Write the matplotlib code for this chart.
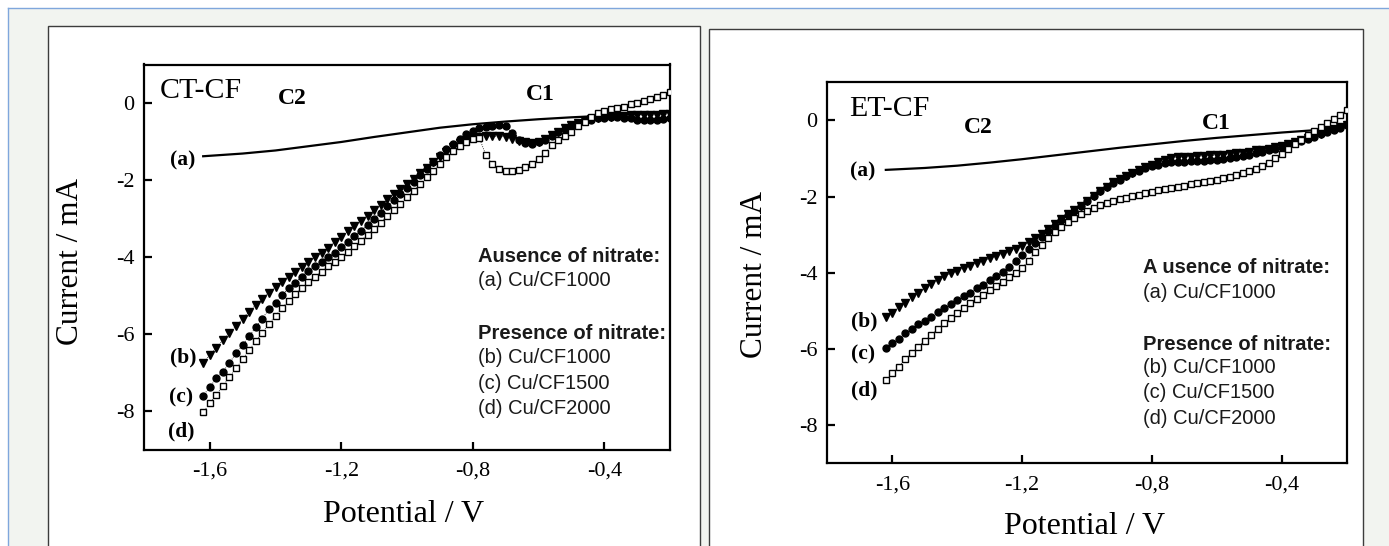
import matplotlib
matplotlib.use("Agg")
import matplotlib.pyplot as plt
from matplotlib.patches import Rectangle
from matplotlib.lines import Line2D

# ---------------- data ----------------
potential = [-1.62, -1.60, -1.58, -1.56, -1.54, -1.52, -1.50, -1.48, -1.46, -1.44,
             -1.42, -1.40, -1.38, -1.36, -1.34, -1.32, -1.30, -1.28, -1.26, -1.24,
             -1.22, -1.20, -1.18, -1.16, -1.14, -1.12, -1.10, -1.08, -1.06, -1.04,
             -1.02, -1.00, -0.98, -0.96, -0.94, -0.92, -0.90, -0.88, -0.86, -0.84,
             -0.82, -0.80, -0.78, -0.76, -0.74, -0.72, -0.70, -0.68, -0.66, -0.64,
             -0.62, -0.60, -0.58, -0.56, -0.54, -0.52, -0.50, -0.48, -0.46, -0.44,
             -0.42, -0.40, -0.38, -0.36, -0.34, -0.32, -0.30, -0.28, -0.26, -0.24,
             -0.22, -0.20]

blank_potential = [-1.62, -1.50, -1.40, -1.30, -1.20, -1.10, -1.00, -0.90,
                   -0.80, -0.70, -0.60, -0.50, -0.40, -0.30, -0.20]

# CT-CF panel
ct_a = [-1.38, -1.31, -1.23, -1.12, -1.01, -0.88, -0.76, -0.64, -0.55, -0.48,
        -0.42, -0.37, -0.33, -0.28, -0.21]
ct_b = [-6.74, -6.54, -6.35, -6.15, -5.97, -5.78, -5.59, -5.41, -5.24, -5.09,
        -4.92, -4.78, -4.63, -4.50, -4.37, -4.25, -4.13, -4.00, -3.88,
        -3.75, -3.61, -3.47, -3.33, -3.19, -3.05, -2.92, -2.78, -2.64, -2.50,
        -2.37, -2.23, -2.10, -1.96, -1.82, -1.68, -1.54, -1.40, -1.27, -1.14,
        -1.03, -0.95, -0.90, -0.87, -0.86, -0.86, -0.86, -0.88, -0.92, -0.98,
        -1.02, -1.03, -1.00, -0.93, -0.84, -0.74, -0.65, -0.57, -0.51, -0.46,
        -0.42, -0.39, -0.37, -0.35, -0.34, -0.33, -0.32, -0.32, -0.31, -0.31,
        -0.30, -0.29, -0.28]
ct_c = [-7.59, -7.37, -7.14, -6.97, -6.74, -6.49, -6.28, -6.04, -5.82, -5.59,
        -5.35, -5.18, -4.98, -4.81, -4.66, -4.50, -4.35, -4.23, -4.12, -3.99,
        -3.88, -3.74, -3.60, -3.46, -3.31, -3.16, -3.00, -2.84, -2.68, -2.52,
        -2.36, -2.20, -2.04, -1.87, -1.70, -1.53, -1.36, -1.20, -1.05,
        -0.92, -0.81, -0.72, -0.66, -0.62, -0.59, -0.58, -0.60, -0.78, -0.95,
        -1.03, -1.05, -1.02, -0.95, -0.86, -0.76, -0.67, -0.59, -0.52, -0.47,
        -0.43, -0.40, -0.38, -0.37, -0.37, -0.38, -0.40, -0.43, -0.45, -0.45,
        -0.44, -0.42, -0.38]
ct_d = [-8.02, -7.79, -7.57, -7.34, -7.11, -6.88, -6.65, -6.41, -6.17, -5.96,
        -5.73, -5.52, -5.32, -5.13, -4.95, -4.81, -4.64, -4.50, -4.37, -4.23,
        -4.12, -3.99, -3.86,
        -3.72, -3.57, -3.42, -3.26, -3.10, -2.94, -2.78, -2.61, -2.45, -2.28,
        -2.11, -1.93, -1.76, -1.58, -1.41, -1.25, -1.11, -1.00, -0.94, -0.91,
        -1.35, -1.58, -1.70, -1.75, -1.76, -1.74, -1.67, -1.58, -1.46, -1.30,
        -1.10, -0.97, -0.86, -0.74, -0.60, -0.48, -0.36, -0.27, -0.20, -0.15,
        -0.13, -0.09, -0.03, 0.01, 0.05, 0.10, 0.15, 0.22, 0.28]

# ET-CF panel
et_a = [-1.30, -1.25, -1.19, -1.11, -1.02, -0.92, -0.82, -0.72, -0.63, -0.54,
        -0.46, -0.39, -0.32, -0.26, -0.18]
et_b = [-5.15, -5.05, -4.91, -4.78, -4.64, -4.52, -4.41, -4.29, -4.18, -4.09,
        -4.01, -3.95,
        -3.88, -3.81, -3.74, -3.68, -3.62, -3.56, -3.50, -3.44, -3.37, -3.29,
        -3.20, -3.10, -2.98, -2.86, -2.73, -2.60, -2.47, -2.35, -2.24, -2.12,
        -1.99, -1.86, -1.74, -1.63, -1.54, -1.45, -1.37, -1.30, -1.23, -1.16,
        -1.09, -1.03, -0.99, -0.97, -0.96, -0.95, -0.94, -0.93, -0.92, -0.91,
        -0.90, -0.89, -0.87, -0.85, -0.82, -0.79, -0.77, -0.74, -0.71, -0.67,
        -0.62, -0.57, -0.52, -0.47, -0.41, -0.35, -0.29, -0.23, -0.17, -0.11]
et_c = [-5.96, -5.85, -5.73, -5.59, -5.47, -5.35, -5.26, -5.15, -5.04, -4.93,
        -4.82, -4.71,
        -4.60, -4.52, -4.41, -4.32, -4.20, -4.09, -3.97, -3.84, -3.69, -3.54,
        -3.38, -3.22, -3.06, -2.91, -2.76, -2.62, -2.49, -2.37, -2.24, -2.12,
        -1.99, -1.86, -1.75, -1.65, -1.56, -1.47, -1.39, -1.32, -1.26, -1.21,
        -1.16, -1.12, -1.10, -1.09, -1.09, -1.08, -1.07, -1.06, -1.05, -1.04,
        -1.02, -1.00, -0.97, -0.94, -0.91, -0.87, -0.83, -0.78, -0.74, -0.69,
        -0.64, -0.59, -0.54, -0.49, -0.43, -0.37, -0.31, -0.25, -0.19, -0.13]
et_d = [-6.81, -6.64, -6.46, -6.27, -6.11, -5.94, -5.78, -5.63, -5.48, -5.33,
        -5.19, -5.06,
        -4.93, -4.80, -4.69, -4.58, -4.45, -4.35, -4.23, -4.12, -4.01, -3.87,
        -3.68, -3.46, -3.27, -3.10, -2.94, -2.79, -2.67, -2.56, -2.47, -2.38,
        -2.29, -2.22, -2.16, -2.11, -2.07, -2.03, -1.99, -1.95, -1.91, -1.87,
        -1.83, -1.80, -1.77, -1.74, -1.71, -1.68, -1.65, -1.62, -1.59, -1.56,
        -1.52, -1.48, -1.44, -1.39, -1.34, -1.28, -1.21, -1.12, -1.00, -0.88,
        -0.75, -0.63, -0.51, -0.39, -0.28, -0.17, -0.07, 0.03, 0.13, 0.28]

xticks = [-1.6, -1.2, -0.8, -0.4]
xtick_labels = ["-1,6", "-1,2", "-0,8", "-0,4"]
yticks = [0, -2, -4, -6, -8]
ytick_labels = ["0", "-2", "-4", "-6", "-8"]

legend_head1 = ["Ausence of nitrate:", "A usence of nitrate:"]
legend_head2 = "Presence of nitrate:"
legend_items = ["(a) Cu/CF1000", "(b) Cu/CF1000", "(c) Cu/CF1500", "(d) Cu/CF2000"]
curve_tags = ["(a)", "(b)", "(c)", "(d)"]

# ---------------- figure ----------------
W, H = 1389, 546
fig = plt.figure(figsize=(W / 100, H / 100), dpi=100, facecolor="white")

SERIF = ["Liberation Serif", "DejaVu Serif"]
SANS = ["Liberation Sans", "DejaVu Sans"]


def fx(px):
    return px / W


def fy(py):
    return 1 - py / H


tf = fig.transFigure
fig.add_artist(Rectangle((fx(8), 0), 1 - fx(8), fy(8), transform=tf,
                         facecolor="#f2f4f0", edgecolor="none", zorder=-5))
fig.add_artist(Line2D([fx(8), 1], [fy(8), fy(8)], transform=tf,
                      color="#7fa7dc", lw=1.0, zorder=-4))
fig.add_artist(Line2D([fx(8), fx(8)], [0, fy(8)], transform=tf,
                      color="#7fa7dc", lw=1.0, zorder=-4))
fig.add_artist(Rectangle((fx(48), -0.02), fx(700) - fx(48), fy(26) + 0.02,
                         transform=tf, facecolor="white", edgecolor="#3c3c3c",
                         lw=1.0, zorder=-3))
fig.add_artist(Rectangle((fx(709), -0.02), fx(1363) - fx(709), fy(29) + 0.02,
                         transform=tf, facecolor="white", edgecolor="#3c3c3c",
                         lw=1.0, zorder=-3))

ax1 = fig.add_axes([fx(144), fy(450), fx(670) - fx(144), fy(64.5) - fy(450)])
ax2 = fig.add_axes([fx(827.4), fy(463.4), fx(1346.7) - fx(827.4), fy(82.2) - fy(463.4)])


def style_axes(ax):
    ax.set_facecolor("white")
    ax.set_xlim(-1.8, -0.2)
    ax.set_ylim(-9, 1)
    for s in ax.spines.values():
        s.set_linewidth(1.6)
        s.set_color("black")
    ax.set_xticks(xticks)
    ax.set_xticklabels(xtick_labels, family=SERIF, fontsize=16)
    ax.set_yticks(yticks)
    ax.set_yticklabels(ytick_labels, family=SERIF, fontsize=16)
    ax.tick_params(direction="in", length=6, width=1.6, color="black")
    ax.tick_params(axis="x", pad=8.5)
    ax.tick_params(axis="y", pad=7)


def draw_series(ax, a, b, c, d):
    ax.plot(blank_potential, a, color="black", lw=1.6, zorder=3)
    ax.plot(potential, b, linestyle=":", lw=0.6, color="black", marker="v",
            ms=6.0, mfc="black", mec="black", zorder=4)
    ax.plot(potential, c, linestyle=":", lw=0.6, color="black", marker="o",
            ms=5.0, mfc="black", mec="black", zorder=4)
    ax.plot(potential, d, linestyle=":", lw=0.6, color="black", marker="s",
            ms=4.4, mfc="white", mec="black", mew=1.0, zorder=4)


for ax in (ax1, ax2):
    style_axes(ax)

draw_series(ax1, ct_a, ct_b, ct_c, ct_d)
draw_series(ax2, et_a, et_b, et_c, et_d)

# panel titles and peak labels
ax1.text(-1.751, 0.30, "CT-CF", family=SERIF, fontsize=21.5, ha="left", va="center")
ax1.text(-1.350, 0.12, "C2", family=SERIF, fontsize=17, fontweight="bold",
         ha="center", va="center")
ax1.text(-0.595, 0.22, "C1", family=SERIF, fontsize=17, fontweight="bold",
         ha="center", va="center")
ax2.text(-1.733, 0.30, "ET-CF", family=SERIF, fontsize=21.5, ha="left", va="center")
ax2.text(-1.336, -0.20, "C2", family=SERIF, fontsize=17, fontweight="bold",
         ha="center", va="center")
ax2.text(-0.602, -0.08, "C1", family=SERIF, fontsize=17, fontweight="bold",
         ha="center", va="center")

# curve tags
ct_tag_pos = [(-1.681, -1.48), (-1.681, -6.59), (-1.687, -7.63), (-1.687, -8.53)]
et_tag_pos = [(-1.690, -1.34), (-1.687, -5.27), (-1.690, -6.14), (-1.687, -7.09)]
for ax, poss in ((ax1, ct_tag_pos), (ax2, et_tag_pos)):
    for tag, (x, y) in zip(curve_tags, poss):
        ax.text(x, y, tag, family=SERIF, fontsize=15.5, fontweight="bold",
                ha="center", va="center")

# legend text blocks
ct_leg = (-0.785, [-3.97, -4.60, -5.99, -6.61, -7.27, -7.92])
et_leg = (-0.828, [-3.86, -4.52, -5.87, -6.49, -7.15, -7.81])
for ax, head1, (lx, ys) in ((ax1, legend_head1[0], ct_leg), (ax2, legend_head1[1], et_leg)):
    lines = [head1, legend_items[0], legend_head2] + legend_items[1:]
    for i, (txt, y) in enumerate(zip(lines, ys)):
        bold = i in (0, 2)
        ax.text(lx, y, txt, family=SANS, fontsize=14.5,
                fontweight="bold" if bold else "normal", ha="left", va="center",
                color="#1a1a1a")

# axis labels
fig.text(fx(71), fy(261), "Current / mA", family=SERIF, fontsize=22.5,
         rotation=90, ha="center", va="center")
fig.text(fx(404), fy(514), "Potential / V", family=SERIF, fontsize=23,
         ha="center", va="center")
fig.text(fx(755), fy(275), "Current / mA", family=SERIF, fontsize=22.5,
         rotation=90, ha="center", va="center")
fig.text(fx(1084.5), fy(526), "Potential / V", family=SERIF, fontsize=23,
         ha="center", va="center")

fig.savefig("out.png", dpi=100, facecolor=fig.get_facecolor())
